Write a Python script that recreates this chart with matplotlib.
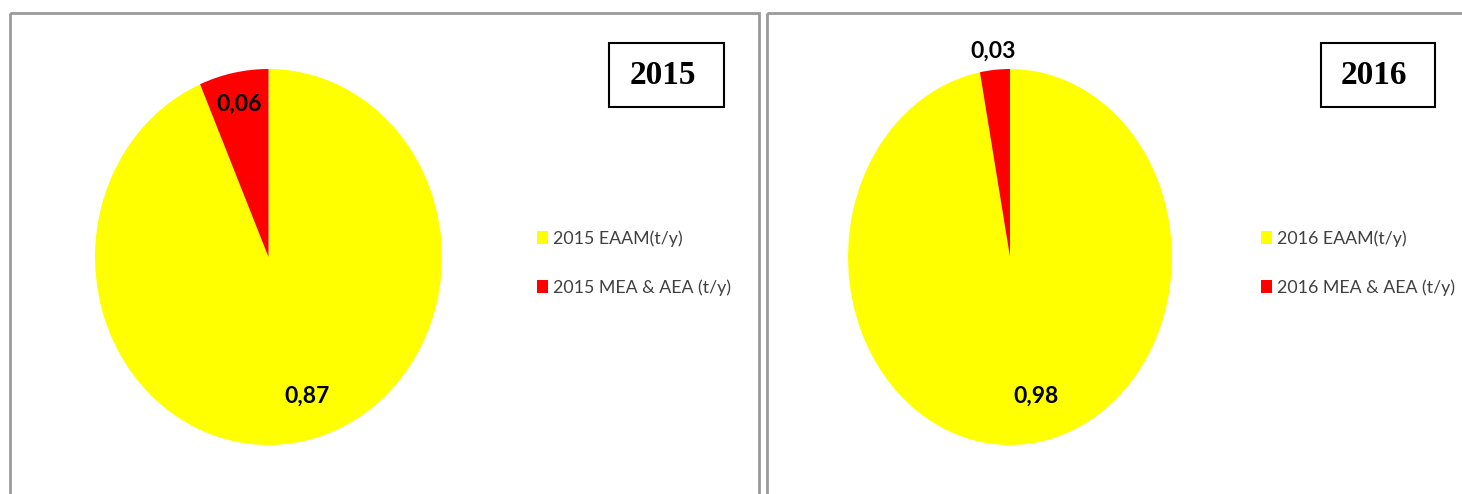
import numpy as np
import matplotlib
matplotlib.use("Agg")
import matplotlib.pyplot as plt
from matplotlib.patches import Rectangle

# data
years = ["2015", "2016"]
eaam_values = [0.87, 0.98]
mea_values = [0.06, 0.03]
series_names = ["EAAM(t/y)", "MEA & AEA (t/y)"]
slice_colors = ["#FFFF00", "#FF0000"]

W, H = 1462, 494


def fx(px):
    return px / W


def fy(py):
    return 1 - py / H


fig = plt.figure(figsize=(W / 100, H / 100), dpi=100)
fig.patch.set_facecolor("white")

# panel frames (pixel boxes: left, top, right)
frames = [(10, 13, 759), (767, 13, 1480)]
for (l, t, r) in frames:
    fig.add_artist(Rectangle((fx(l), fy(t)), fx(r - l), -fy(t) - 0.1,
                             transform=fig.transFigure, fill=False,
                             edgecolor="#9a9a9a", linewidth=2.0, clip_on=False))

# pie boxes (pixel: left, top, right, bottom)
pie_boxes = [(95, 69, 442, 445), (848, 69, 1172, 445)]
year_boxes = [(609, 43, 724, 107), (1321, 43, 1435, 107)]
legend_pos = [(537, 230), (1261, 230)]
# label placement per panel: (radius, angle shift in deg) for [EAAM, MEA]
label_place = [[(0.77, 5.0), (0.83, 0.0)], [(0.76, 7.0), (1.10, 0.0)]]

for i, year in enumerate(years):
    l, t, r, b = pie_boxes[i]
    ax = fig.add_axes([fx(l), fy(b), fx(r - l), (b - t) / H])
    vals = [eaam_values[i], mea_values[i]]
    wedges, _ = ax.pie(vals, colors=slice_colors, startangle=90,
                       counterclock=False, radius=1.0,
                       wedgeprops=dict(linewidth=0))
    ax.set_xlim(-1, 1)
    ax.set_ylim(-1, 1)
    ax.set_aspect("auto")
    ax.axis("off")

    for w, v, (rad, shift) in zip(wedges, vals, label_place[i]):
        mid = np.deg2rad((w.theta1 + w.theta2) / 2 + shift)
        ax.text(rad * np.cos(mid), rad * np.sin(mid),
                ("%.2f" % v).replace(".", ","), ha="center", va="center",
                fontsize=16.5, fontweight="bold", family="Lato", color="black",
                clip_on=False)

    # legend
    lx, ly = legend_pos[i]
    leg = ax.legend(wedges, [year + " " + n for n in series_names],
                    loc="upper left", bbox_to_anchor=(fx(lx), fy(ly)),
                    bbox_transform=fig.transFigure, frameon=False,
                    prop={"family": "Lato", "size": 12.8},
                    handlelength=0.62, handleheight=0.75, handletextpad=0.3,
                    labelspacing=1.85, borderpad=0, borderaxespad=0)
    for txt in leg.get_texts():
        txt.set_color("#404040")

    # year box
    bl, bt, br, bb = year_boxes[i]
    fig.add_artist(Rectangle((fx(bl), fy(bb)), fx(br - bl), (bb - bt) / H,
                             transform=fig.transFigure, fill=False,
                             edgecolor="black", linewidth=1.5))
    fig.text(fx((bl + br) / 2 - 4), fy((bt + bb) / 2), year,
             ha="center", va="center", fontsize=24, fontweight="bold",
             family="Liberation Serif", color="black")

plt.savefig("out.png", dpi=100)
